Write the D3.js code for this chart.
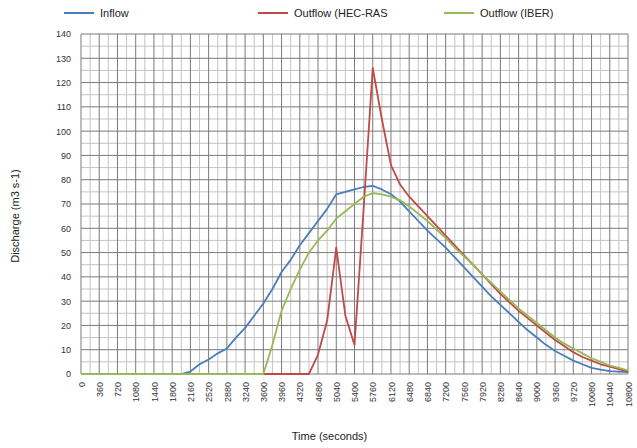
<!DOCTYPE html>
<html>
<head>
<meta charset="utf-8">
<script src="https://cdn.jsdelivr.net/npm/d3@7"></script>
<style>
  body { margin: 0; background: #fff; }
  text { font-family: "Liberation Sans", Arial, sans-serif; }
</style>
</head>
<body>
<div id="chart"></div>
<script>
var width = 637,
    height = 448;
var margin = {top: 34, right: 9, bottom: 74, left: 81};

// time in seconds, one sample every 180 s
var times = [0, 180, 360, 540, 720, 900, 1080, 1260, 1440, 1620, 1800, 1980, 2160, 2340, 2520, 2700,
  2880, 3060, 3240, 3420, 3600, 3780, 3960, 4140, 4320, 4500, 4680, 4860, 5040, 5220, 5400, 5580,
  5760, 5940, 6120, 6300, 6480, 6660, 6840, 7020, 7200, 7380, 7560, 7740, 7920, 8100, 8280, 8460,
  8640, 8820, 9000, 9180, 9360, 9540, 9720, 9900, 10080, 10260, 10440, 10620, 10800];

var inflow = [0, 0, 0, 0, 0, 0, 0, 0, 0, 0, 0, 0, 1, 4, 6, 8.5,
  10.5, 15, 19, 24, 29, 35, 42, 47, 53, 58, 63, 68, 74, 75, 76, 77,
  77.5, 76, 74, 71, 67, 63, 59, 55.5, 52, 48, 44, 40, 36, 32, 28.5, 25,
  21.5, 18, 15, 12, 9.5, 7.5, 5.5, 4, 2.5, 1.8, 1.2, 1, 0.8];

var outflowHec = [0, 0, 0, 0, 0, 0, 0, 0, 0, 0, 0, 0, 0, 0, 0, 0,
  0, 0, 0, 0, 0, 0, 0, 0, 0, 0, 8, 22, 52, 24, 12, 68,
  126, 105, 86, 78, 73, 69, 65, 61, 57, 53, 49, 45, 41, 37, 33, 29.5,
  26, 23, 20, 17, 14, 11.5, 9, 7, 5.5, 4, 3, 2, 1];

var outflowIber = [0, 0, 0, 0, 0, 0, 0, 0, 0, 0, 0, 0, 0, 0, 0, 0,
  0, 0, 0, 0, 0, 12, 26, 35, 43, 50, 55, 59, 64, 67, 70, 73,
  74.5, 74, 73, 71.5, 69, 66, 63, 59.5, 56, 52, 48.5, 45, 41, 37.5, 34, 30.5,
  27, 24, 21, 18, 15, 12.5, 10.5, 8.5, 6.5, 5, 3.5, 2.5, 1.5];

var xTicks = [0, 360, 720, 1080, 1440, 1800, 2160, 2520, 2880, 3240, 3600, 3960, 4320, 4680, 5040,
  5400, 5760, 6120, 6480, 6840, 7200, 7560, 7920, 8280, 8640, 9000, 9360, 9720, 10080, 10440, 10800];
var yTicks = [0, 10, 20, 30, 40, 50, 60, 70, 80, 90, 100, 110, 120, 130, 140];
var yMinor = [5, 15, 25, 35, 45, 55, 65, 75, 85, 95, 105, 115, 125, 135];

var seriesNames = ["Inflow", "Outflow (HEC-RAS", "Outflow (IBER)"];
var seriesColors = ["#4a7ebb", "#be4b48", "#98b954"];

var svg = d3.select("#chart").append("svg")
    .attr("width", width)
    .attr("height", height);

var x = d3.scaleLinear()
    .domain([0, 10800])
    .range([margin.left, width - margin.right]);

var y = d3.scaleLinear()
    .domain([0, 140])
    .range([height - margin.bottom, margin.top]);

// minor gridlines (half steps)
var grid = svg.append("g").attr("class", "grid");
grid.selectAll("line.hm")
    .data(yMinor)
    .enter().append("line")
    .attr("class", "hm")
    .attr("x1", margin.left)
    .attr("x2", width - margin.right)
    .attr("y1", function(d) { return y(d); })
    .attr("y2", function(d) { return y(d); })
    .attr("stroke", "#c4c4c4");

grid.selectAll("line.vm")
    .data(times.filter(function(t) { return xTicks.indexOf(t) < 0; }))
    .enter().append("line")
    .attr("class", "vm")
    .attr("x1", function(d) { return x(d); })
    .attr("x2", function(d) { return x(d); })
    .attr("y1", margin.top)
    .attr("y2", height - margin.bottom)
    .attr("stroke", "#c4c4c4");

// major gridlines
grid.selectAll("line.h")
    .data(yTicks)
    .enter().append("line")
    .attr("class", "h")
    .attr("x1", margin.left)
    .attr("x2", width - margin.right)
    .attr("y1", function(d) { return y(d); })
    .attr("y2", function(d) { return y(d); })
    .attr("stroke", "#7a7a7a");

grid.selectAll("line.v")
    .data(xTicks)
    .enter().append("line")
    .attr("class", "v")
    .attr("x1", function(d) { return x(d); })
    .attr("x2", function(d) { return x(d); })
    .attr("y1", margin.top)
    .attr("y2", height - margin.bottom)
    .attr("stroke", "#7a7a7a");

// y axis labels
var yAxis = svg.append("g")
    .attr("transform", "translate(" + margin.left + ",0)")
    .call(d3.axisLeft(y).tickValues(yTicks).tickSize(0).tickPadding(10));
yAxis.select(".domain").remove();
yAxis.selectAll("text")
    .attr("font-size", 9)
    .attr("fill", "#333");

// x axis labels, rotated
var xAxis = svg.append("g")
    .attr("transform", "translate(0," + (height - margin.bottom) + ")")
    .call(d3.axisBottom(x).tickValues(xTicks).tickSize(0).tickFormat(d3.format("d")));
xAxis.select(".domain").remove();
xAxis.selectAll("text")
    .attr("font-size", 9)
    .attr("fill", "#333")
    .attr("text-anchor", "end")
    .attr("dy", "0.35em")
    .attr("transform", "translate(0,8) rotate(-90)")
    .attr("x", 0)
    .attr("y", 0);

// axis titles
svg.append("text")
    .attr("x", (margin.left + width - margin.right) / 2 - 25)
    .attr("y", 440)
    .attr("text-anchor", "middle")
    .attr("font-size", 11)
    .attr("fill", "#222")
    .text("Time (seconds)");

svg.append("text")
    .attr("transform", "translate(19," + ((margin.top + height - margin.bottom) / 2 + 12) + ") rotate(-90)")
    .attr("text-anchor", "middle")
    .attr("font-size", 11)
    .attr("fill", "#222")
    .text("Discharge (m3 s-1)");

// lines
var line = d3.line()
    .x(function(d, i) { return x(times[i]); })
    .y(function(d) { return y(d); });

[inflow, outflowHec, outflowIber].forEach(function(s, k) {
  svg.append("path")
      .datum(s)
      .attr("fill", "none")
      .attr("stroke", seriesColors[k])
      .attr("stroke-width", 1.8)
      .attr("stroke-linejoin", "round")
      .attr("d", line);
});

// legend
var legendX = [64, 258, 444];
var legend = svg.append("g").attr("class", "legend");
seriesNames.forEach(function(name, k) {
  legend.append("line")
      .attr("x1", legendX[k])
      .attr("x2", legendX[k] + 30)
      .attr("y1", 13)
      .attr("y2", 13)
      .attr("stroke", seriesColors[k])
      .attr("stroke-width", 2);
  legend.append("text")
      .attr("x", legendX[k] + 36)
      .attr("y", 13)
      .attr("dy", "0.35em")
      .attr("font-size", 11)
      .attr("fill", "#222")
      .text(name);
});
</script>
</body>
</html>
